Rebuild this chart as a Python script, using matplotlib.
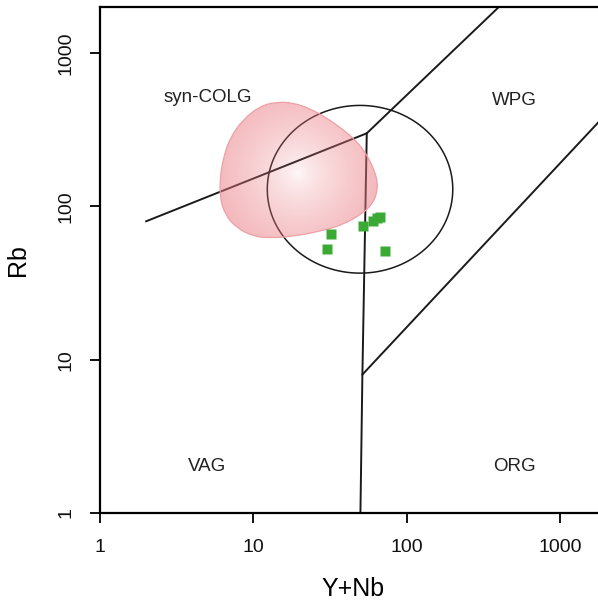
import numpy as np
import matplotlib
matplotlib.use('Agg')
import matplotlib.pyplot as plt
from matplotlib.path import Path
from matplotlib.patches import PathPatch, Polygon

plt.rcParams['font.family'] = ['Liberation Sans', 'DejaVu Sans']

# sample data (Y+Nb, Rb)
ynb = [32.1, 30.3, 51.6, 60.4, 64.1, 67.1, 72.3]
rb = [66.4, 53.0, 74.9, 80.7, 83.9, 85.8, 50.9]

# Pearce (1984) field boundaries
colg_x = [2, 55, 400]
colg_y = [80, 300, 2000]
vag_x = [55, 51.5, 50]
vag_y = [300, 8, 1]
org_x = [51.5, 2000]
org_y = [8, 400]

# post-collision field (ellipse in log space)
pcg_center = (49.7, 129.4)
pcg_radius = (0.605, 0.547)  # decades

# shaded reference field outline
field_x = [8.57, 11.06, 14.21, 18.2, 23.4, 30.1, 38.6, 47.3, 54.9, 60.7, 64.8,
           63.8, 59.2, 52.2, 38.6, 27.2, 18.2, 12.85, 10.0, 7.79, 6.54, 6.07,
           6.07, 6.37, 7.05]
field_y = [369, 451, 481, 474, 435, 378, 317, 266, 218, 178, 146, 119, 103,
           90.7, 76.0, 68.8, 63.8, 62.3, 63.8, 72.4, 88.4, 114, 153, 207, 280]

labels = ['syn-COLG', 'WPG', 'VAG', 'ORG']
label_x = [5.06, 502, 4.99, 502]
label_y = [514, 491, 2.0, 2.0]

fig = plt.figure(figsize=(5.98, 6.03), dpi=100)
ax = fig.add_axes([100/598, 90/603, 506/598, 506/603])
ax.set_xscale('log')
ax.set_yscale('log')

ax.plot(colg_x, colg_y, color='#1a1a1a', lw=1.4, zorder=2)
ax.plot(vag_x, vag_y, color='#1a1a1a', lw=1.4, zorder=2)
ax.plot(org_x, org_y, color='#1a1a1a', lw=1.4, zorder=2)

th = np.linspace(0, 2*np.pi, 300, endpoint=False)
ex = 10 ** (np.log10(pcg_center[0]) + pcg_radius[0] * np.cos(th))
ey = 10 ** (np.log10(pcg_center[1]) + pcg_radius[1] * np.sin(th))
ax.add_patch(Polygon(np.column_stack([ex, ey]), closed=True, fill=False,
                     edgecolor='#1a1a1a', lw=1.1, zorder=2))

# smooth closed outline through the field points
pts = np.column_stack([field_x, field_y])
n = len(pts)
mids = [np.exp((np.log(pts[i]) + np.log(pts[(i+1) % n])) / 2) for i in range(n)]
verts = [mids[-1]]
codes = [Path.MOVETO]
for i in range(n):
    verts += [pts[i], mids[i]]
    codes += [Path.CURVE3, Path.CURVE3]
path = Path(verts, codes)
patch = PathPatch(path, facecolor='none', edgecolor='#eda0a6', lw=0.9, zorder=2.6)
ax.add_patch(patch)

# translucent radial gradient over the field
gx, gy = np.meshgrid(np.linspace(0, 1, 400), np.linspace(0, 1, 400))
r = np.sqrt((gx - 0.391)**2 + (gy - 0.672)**2) / 0.2
t = np.clip(r, 0, 1) ** 0.7
img = np.zeros((400, 400, 4))
img[..., 0] = 234 / 255.
img[..., 1] = 120 / 255.
img[..., 2] = 128 / 255.
img[..., 3] = 0.04 + 0.56 * t
im = ax.imshow(img, extent=[0, 1, 0, 1], origin='lower', transform=ax.transAxes,
               aspect='auto', zorder=2.5, interpolation='bilinear')
im.set_clip_path(patch)

ax.plot(ynb, rb, 's', color='#3aaa35', ms=6.5, mec='none', zorder=3)

for lab, x, y in zip(labels, label_x, label_y):
    ax.text(x, y, lab, ha='center', va='center', fontsize=13.5, color='#222222')

ax.set_xlim(1, 2000)
ax.set_ylim(1, 2000)
ticks = [1, 10, 100, 1000]
ax.set_xticks(ticks)
ax.set_xticklabels([str(v) for v in ticks])
ax.set_yticks(ticks)
ax.set_yticklabels([str(v) for v in ticks], rotation=90, va='center')
ax.minorticks_off()
ax.tick_params(length=7.5, width=1.4, pad=11, labelsize=14, colors='#111111')
for s in ax.spines.values():
    s.set_linewidth(1.6)

ax.set_xlabel('Y+Nb', fontsize=18)
ax.set_ylabel('Rb', fontsize=18)
ax.xaxis.set_label_coords(0.5, -0.126)
ax.yaxis.set_label_coords(-0.138, 0.5)

fig.savefig('out.png', dpi=100)
